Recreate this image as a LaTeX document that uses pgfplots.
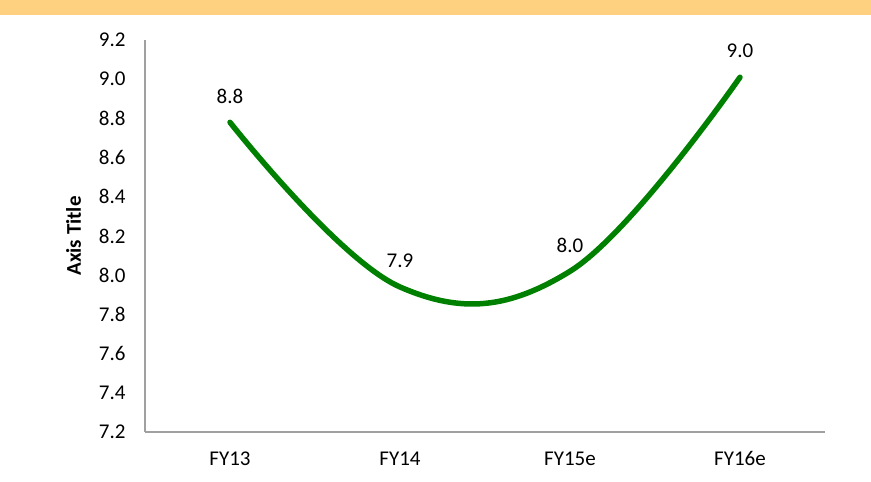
\documentclass[border=0pt]{standalone}
\usepackage{fontspec}
\setmainfont{Carlito}
\usepackage{pgfplots}
\pgfplotsset{compat=1.18}
\definecolor{band}{RGB}{253,209,127}
\definecolor{axgray}{RGB}{160,160,160}
\definecolor{lgreen}{RGB}{0,128,0}
\begin{document}
\begin{tikzpicture}[x=1pt,y=1pt]
\useasboundingbox (0,0) rectangle (871,482);
\fill[band] (0,467) rectangle (871,482);
\begin{axis}[
  at={(145pt,50pt)}, anchor=south west,
  scale only axis, width=680pt, height=392pt,
  xmin=-0.5, xmax=3.5, ymin=7.2, ymax=9.2,
  axis x line*=bottom, axis y line*=left,
  axis line style={draw=axgray, line width=1.6pt, -},
  major tick length=0pt,
  xtick={0,1,2,3}, xticklabels={FY13,FY14,FY15e,FY16e},
  ytick={7.2,7.4,7.6,7.8,8.0,8.2,8.4,8.6,8.8,9.0,9.2},
  yticklabel style={/pgf/number format/fixed, /pgf/number format/fixed zerofill, /pgf/number format/precision=1, /pgf/number format/assume math mode=true, xshift=-16pt},
  xticklabel style={yshift=-16pt},
  tick label style={font=\fontsize{21}{24}\selectfont},
  ylabel={\textbf{Axis Title}},
  ylabel style={font=\fontsize{21}{24}\selectfont, at={(axis description cs:-0.105,0.5)}, anchor=center},
  clip=false,
  nodes near coords, point meta=explicit symbolic,
  every node near coord/.append style={font=\fontsize{21}{24}\selectfont, text=black, anchor=center, yshift=26pt},
]
\addplot[lgreen, line width=5.5pt, line cap=round, smooth, tension=0.65] coordinates {
  (0,8.78) [8.8]
  (1,7.94) [7.9]
  (2,8.02) [8.0]
  (3,9.01) [9.0]
};
\end{axis}
\end{tikzpicture}
\end{document}
